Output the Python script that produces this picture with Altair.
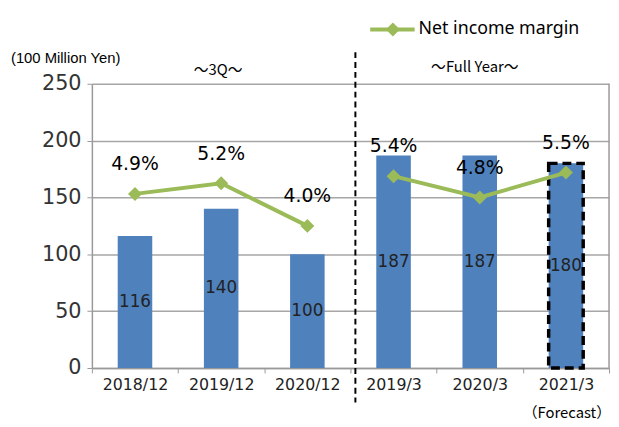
import altair as alt
import pandas as pd

periods = ["2018/12", "2019/12", "2020/12", "2019/3", "2020/3", "2021/3"]
groups = ["3Q", "3Q", "3Q", "FY", "FY", "FY"]
net_income = [116, 140, 100, 187, 187, 180]
margin = [4.9, 5.2, 4.0, 5.4, 4.8, 5.5]
margin_labels = ["4.9%", "5.2%", "4.0%", "5.4%", "4.8%", "5.5%"]
forecast = [False, False, False, False, False, True]

df = pd.DataFrame({
    "period": periods, "group": groups, "ni": net_income,
    "margin": margin, "mlabel": margin_labels, "forecast": forecast,
})

W, H = 524, 288
FONT = "DejaVu Sans"
BAR = "#4F81BD"
LINE = "#9BBB59"

xenc = alt.X("period:N", sort=periods, title=None,
             scale=alt.Scale(paddingInner=0, paddingOuter=0),
             axis=alt.Axis(labelAngle=0, labelFont=FONT, labelFontSize=16,
                           labelColor="#222", domainColor="#999", tickColor="#999",
                           tickBand="extent", tickSize=5, labelPadding=4,
                           domainWidth=1.5))

yscale = alt.Scale(domain=[0, 250])
base = alt.Chart(df)

bars = base.mark_bar(size=35, color=BAR).encode(
    x=xenc,
    y=alt.Y("ni:Q", scale=yscale, title=None,
            axis=alt.Axis(values=[0, 50, 100, 150, 200, 250], labelFont=FONT,
                          labelFontSize=21, labelColor="#333", domainColor="#999",
                          tickColor="#999", gridColor="#A6A6A6", gridWidth=1.5,
                          tickSize=5, labelPadding=6, domainWidth=1.5)),
)

box = base.transform_filter("datum.forecast").mark_bar(
    size=35, fill=None, fillOpacity=0, stroke="black", strokeWidth=3.5,
    strokeDash=[9, 5]).encode(x=alt.X("period:N", sort=periods), y=alt.Y("ni:Q", scale=yscale))

bar_text = base.transform_calculate(mid="datum.ni / 2").mark_text(
    font=FONT, fontSize=17, color="#222").encode(
    x=alt.X("period:N", sort=periods), y=alt.Y("mid:Q", scale=yscale), text="ni:Q")

left = alt.layer(bars, box, bar_text)

mscale = alt.Scale(domain=[0, 8])
line = base.mark_line(color=LINE, strokeWidth=4).encode(
    x=alt.X("period:N", sort=periods),
    y=alt.Y("margin:Q", scale=mscale, axis=None),
    detail="group:N")
pts = base.mark_point(shape="diamond", filled=True, color=LINE, size=200, opacity=1).encode(
    x=alt.X("period:N", sort=periods),
    y=alt.Y("margin:Q", scale=mscale, axis=None))
mtext = base.mark_text(font=FONT, fontSize=19, fontWeight="normal", color="black",
                       dy=-30).encode(
    x=alt.X("period:N", sort=periods),
    y=alt.Y("margin:Q", scale=mscale, axis=None),
    text="mlabel:N")

right = alt.layer(line, pts, mtext)

one = alt.Data(values=[{"a": 1}])
sep = alt.Chart(one).mark_rule(color="black", strokeWidth=2, strokeDash=[6, 4]).encode(
    x=alt.value(267), y=alt.value(-32), y2=alt.value(323))
frame_r = alt.Chart(one).mark_rule(color="#999", strokeWidth=1.5).encode(
    x=alt.value(W), y=alt.value(0), y2=alt.value(H))
leg_line = alt.Chart(one).mark_rule(color=LINE, strokeWidth=4).encode(
    x=alt.value(282), x2=alt.value(327), y=alt.value(-55))
leg_pt = alt.Chart(one).mark_point(shape="diamond", filled=True, color=LINE, size=200, opacity=1).encode(
    x=alt.value(305), y=alt.value(-55))
leg_txt = alt.Chart(one).mark_text(text="Net income margin", font="Noto Sans", fontSize=18,
                                   align="left", baseline="middle", color="black").encode(
    x=alt.value(331), y=alt.value(-55))
unit_txt = alt.Chart(one).mark_text(text="(100 Million Yen)", font="Liberation Sans", fontSize=15,
                                    align="left", baseline="middle", color="black").encode(
    x=alt.value(-82), y=alt.value(-26))
q3_txt = alt.Chart(one).mark_text(text="～3Q～", font="Noto Sans CJK JP", fontSize=15,
                                  align="center", baseline="middle", color="black").encode(
    x=alt.value(128), y=alt.value(-14))
fy_txt = alt.Chart(one).mark_text(text="～Full Year～", font="Noto Sans CJK JP", fontSize=15,
                                  align="center", baseline="middle", color="black").encode(
    x=alt.value(388), y=alt.value(-17))
fc_txt = alt.Chart(one).mark_text(text="（Forecast）", font="Noto Sans CJK JP", fontSize=15,
                                  align="right", baseline="middle", color="black").encode(
    x=alt.value(W + 2), y=alt.value(H + 46))

chart = alt.layer(left, right, sep, frame_r, leg_line, leg_pt, leg_txt,
                  unit_txt, q3_txt, fy_txt, fc_txt).resolve_scale(y="independent").properties(
    width=W, height=H,
    autosize=alt.AutoSizeParams(type="none"),
    padding={"left": 85, "top": 74, "right": 2, "bottom": 57},
).configure_view(stroke=None).configure_axis(grid=False).configure_axisY(grid=True)

chart.save("out.html", embed_options={"renderer": "svg", "actions": False})
